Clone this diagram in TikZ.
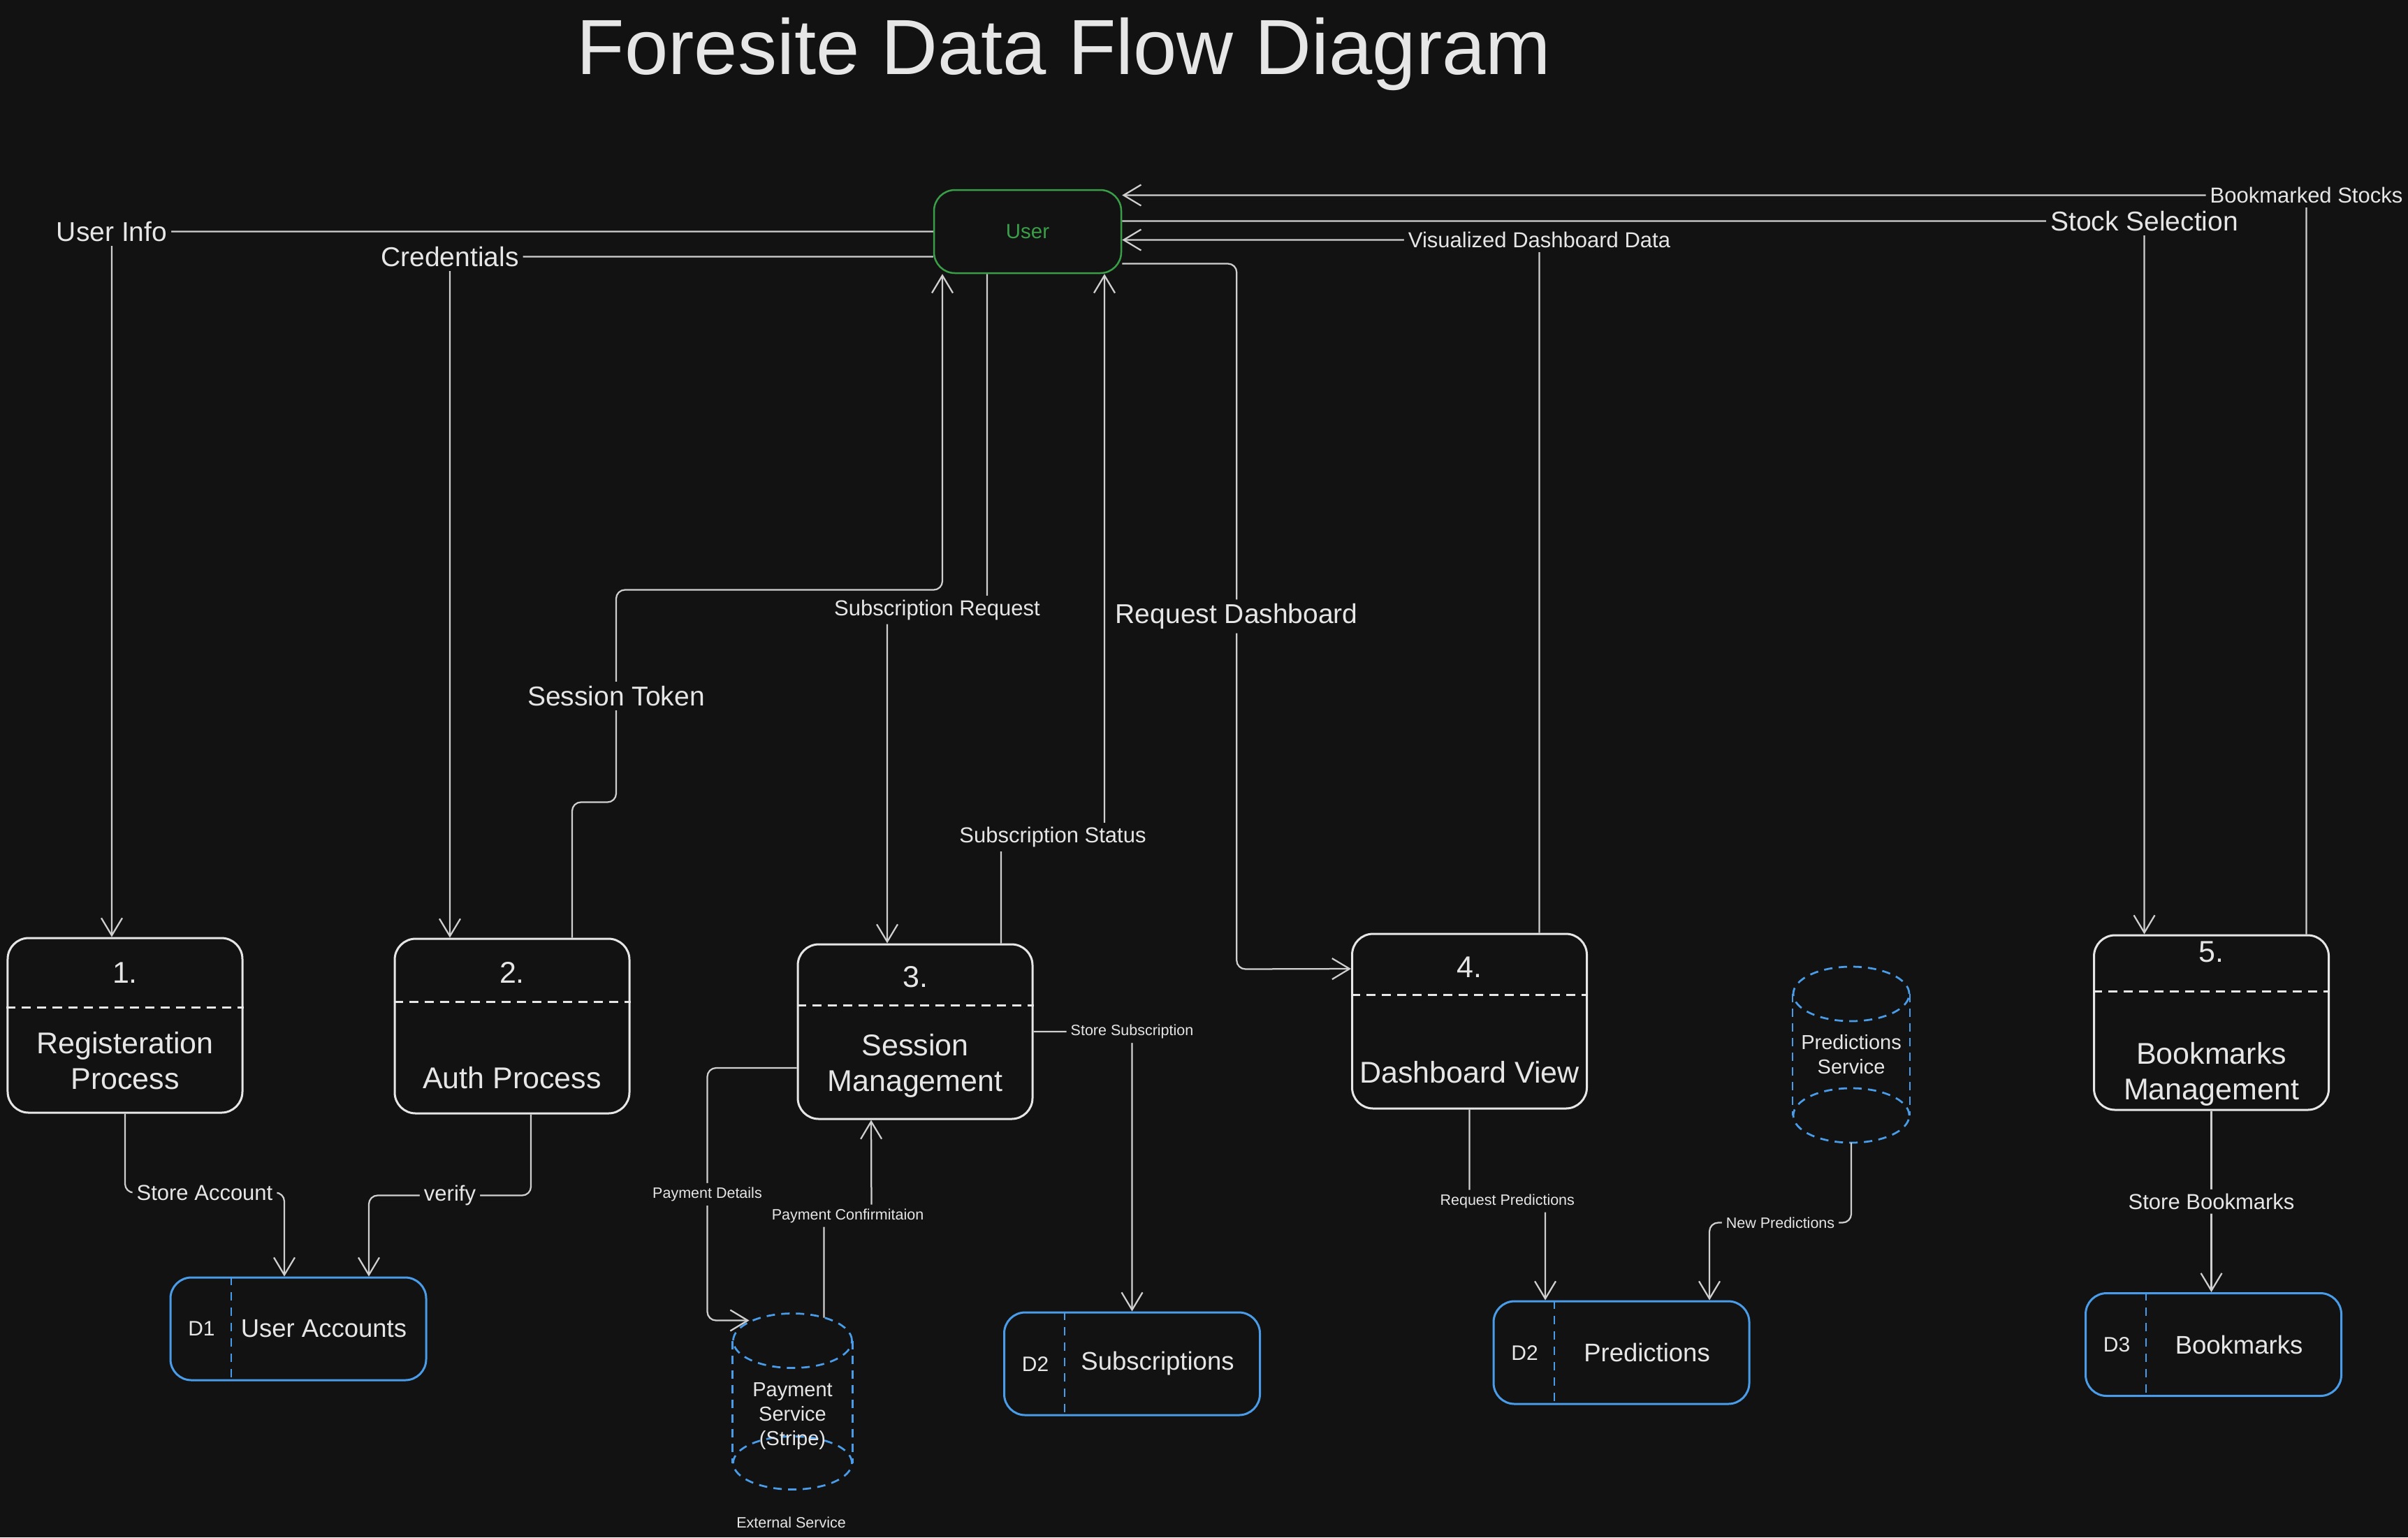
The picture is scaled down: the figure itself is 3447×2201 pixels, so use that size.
\documentclass[tikz,border=0pt]{standalone}
\usepackage{fontspec}
\setmainfont{Liberation Sans}
\usepackage{tikz}
\usetikzlibrary{arrows.meta,calc,positioning}
\definecolor{bg}{HTML}{121212}
\definecolor{fg}{HTML}{E6E6E6}
\definecolor{wire}{HTML}{CFCFCF}
\definecolor{userg}{HTML}{3A9E48}
\definecolor{storeb}{HTML}{4A9CE8}

\begin{document}
\begin{tikzpicture}[x=0.2pt,y=-0.2pt,>={Straight Barb[length=5pt,width=6pt]},
        flow/.style={draw=wire,line width=0.45pt,rounded corners=2.5pt},
        lbl/.style={fill=bg,text=fg,inner sep=1.2pt},
        lblbig/.style={lbl,font=\fontsize{7.8}{9}\selectfont},
        lblmid/.style={lbl,font=\fontsize{6.2}{7.4}\selectfont},
        lblsmall/.style={lbl,font=\fontsize{4.3}{5.2}\selectfont},
        entity/.style={rectangle,rounded corners=6pt,draw=userg,line width=0.5pt,fill=bg,minimum width=53.6pt,minimum height=23.8pt,text=userg,font=\fontsize{5.9}{7}\selectfont},
        process/.style={rectangle,rounded corners=6pt,draw=fg,line width=0.6pt,fill=bg,minimum width=67.2pt,minimum height=50pt},
        proctext/.style={text=fg,align=center,font=\fontsize{8.6}{10.2}\selectfont},
        divider/.style={draw=fg,line width=0.6pt,dash pattern=on 2.6pt off 1.8pt},
        store/.style={rectangle,rounded corners=6pt,draw=storeb,line width=0.6pt,fill=bg,minimum width=73.2pt,minimum height=29.4pt},
        storeid/.style={text=fg,font=\fontsize{6}{7}\selectfont},
        storetext/.style={text=fg,font=\fontsize{7.3}{8.8}\selectfont},
        storediv/.style={draw=storeb,line width=0.4pt,dash pattern=on 2.4pt off 2pt},
        cyl/.style={rectangle,inner sep=0pt,minimum height=50pt},
        cyldash/.style={draw=storeb,line width=0.55pt,dash pattern=on 2.4pt off 1.8pt},
        cyltext/.style={text=fg,align=center,font=\fontsize{5.8}{7}\selectfont}]
        \fill[bg] (0,0) rectangle (3447,2201);
        \useasboundingbox (0,0) rectangle (3447,2201);

        \node[text=fg,font=\fontsize{22.4}{26}\selectfont] (title) at (1523,78) {Foresite Data Flow Diagram};
        \node[entity] (User) at (1471,331.5) {User};

        \node[process] (p1) at (179,1468) {};
        \node[proctext] (n1) at ($(p1.north)+(0,51)$) {1.};
        \draw[divider] ($(p1.north west)+(0,101)$) -- ($(p1.north east)+(0,101)$);
        \node[proctext] (t1) at ($(p1.north)+(0,177)$) {Registeration\\Process};

        \node[process] (p2) at (733,1469) {};
        \node[proctext] (n2) at ($(p2.north)+(0,50)$) {2.};
        \draw[divider] ($(p2.north west)+(0,92)$) -- ($(p2.north east)+(0,92)$);
        \node[proctext] (t2) at ($(p2.north)+(0,201)$) {Auth Process};

        \node[process] (p3) at (1310,1477) {};
        \node[proctext] (n3) at ($(p3.north)+(0,48)$) {3.};
        \draw[divider] ($(p3.north west)+(0,89)$) -- ($(p3.north east)+(0,89)$);
        \node[proctext] (t3) at ($(p3.north)+(0,175)$) {Session\\Management};

        \node[process] (p4) at (2103.5,1462) {};
        \node[proctext] (n4) at ($(p4.north)+(0,49)$) {4.};
        \draw[divider] ($(p4.north west)+(0,89)$) -- ($(p4.north east)+(0,89)$);
        \node[proctext] (t4) at ($(p4.north)+(0,200)$) {Dashboard View};

        \node[process] (p5) at (3165.5,1464) {};
        \node[proctext] (n5) at ($(p5.north)+(0,25)$) {5.};
        \draw[divider] ($(p5.north west)+(0,82)$) -- ($(p5.north east)+(0,82)$);
        \node[proctext] (t5) at ($(p5.north)+(0,200)$) {Bookmarks\\Management};

        \node[store] (d1) at (427,1902.5) {};
        \node[storeid] (d1id) at ($(d1.west)+(46,0)$) {D1};
        \draw[storediv] ($(d1.north west)+(88,0)$) -- ($(d1.south west)+(88,0)$);
        \node[storetext] (d1name) at ($(d1.west)+(221,0)$) {User Accounts};

        \node[store] (d2s) at (1620.5,1952.5) {};
        \node[storeid] (d2sid) at ($(d2s.west)+(46,0)$) {D2};
        \draw[storediv] ($(d2s.north west)+(88,0)$) -- ($(d2s.south west)+(88,0)$);
        \node[storetext] (d2sname) at ($(d2s.west)+(221,0)$) {Subscriptions};

        \node[store] (d2p) at (2321,1936.5) {};
        \node[storeid] (d2pid) at ($(d2p.west)+(46,0)$) {D2};
        \draw[storediv] ($(d2p.north west)+(88,0)$) -- ($(d2p.south west)+(88,0)$);
        \node[storetext] (d2pname) at ($(d2p.west)+(221,0)$) {Predictions};

        \node[store] (d3) at (3168.5,1925) {};
        \node[storeid] (d3id) at ($(d3.west)+(46,0)$) {D3};
        \draw[storediv] ($(d3.north west)+(88,0)$) -- ($(d3.south west)+(88,0)$);
        \node[storetext] (d3name) at ($(d3.west)+(221,0)$) {Bookmarks};

        \node[cyl,minimum width=34pt] (pay) at (1134.5,2006.5) {};
        \draw[cyldash] ($(pay.north)+(0,39)$) ellipse [x radius=17pt,y radius=7.8pt];
        \draw[cyldash] ($(pay.south)+(0,-38)$) ellipse [x radius=17pt,y radius=7.6pt];
        \draw[cyldash] ($(pay.north west)+(0,39)$) -- ($(pay.south west)+(0,-38)$);
        \draw[cyldash] ($(pay.north east)+(0,39)$) -- ($(pay.south east)+(0,-38)$);
        \node[cyltext] (payText) at ($(pay.center)+(0,21)$) {Payment\\Service\\(Stripe)};
        \node[lblsmall] (extSvc) at ($(pay.south)+(-2,47)$) {External Service};

        \node[cyl,minimum width=33.2pt] (psvc) at (2650,1510) {};
        \draw[cyldash] ($(psvc.north)+(0,39)$) ellipse [x radius=16.6pt,y radius=7.8pt];
        \draw[cyldash] ($(psvc.south)+(0,-39)$) ellipse [x radius=16.6pt,y radius=7.8pt];
        \draw[cyldash] ($(psvc.north west)+(0,39)$) -- ($(psvc.south west)+(0,-39)$);
        \draw[cyldash] ($(psvc.north east)+(0,39)$) -- ($(psvc.south east)+(0,-39)$);
        \node[cyltext] (psvcText) at (psvc.center) {Predictions\\Service};

        \draw[flow,->] (User.west) -| node[lblbig] (lUI) {User Info} ($(p1.north)+(-19,0)$);
        \draw[flow,->] ($(User.west)+(0,36)$) -| node[lblbig] (lCr) {Credentials} ($(p2.north)+(-89,0)$);
        \draw[flow,->] ($(p2.north)+(86,0)$) -- ++(0,-194) -- ++(63,0) -- node[lblbig] (lST) {Session Token} ++(0,-304) -| ($(User.south)+(-122,0)$);
        \draw[flow,->] ($(User.south)+(-58,0)$) -- ++(0,481) -- node[lblmid] (lSR) {Subscription Request} ++(-143,0) -- ($(p3.north)+(-40,0)$);
        \draw[flow,->] ($(p3.north)+(123,0)$) -- ++(0,-152) -- node[lblmid] (lSS) {Subscription Status} ++(148,0) -- ($(User.south)+(110,0)$);
        \draw[flow,->] ($(User.east)+(0,46)$) -| node[lblbig,pos=0.75] (lRD) {Request Dashboard} ++(164,1010) -- ($(p4.west)+(0,-75)$);
        \draw[flow,->] ($(p4.north)+(100,0)$) |- node[lblmid] (lVD) {Visualized Dashboard Data} ($(User.east)+(0,12)$);
        \draw[flow,->] ($(User.east)+(0,-15)$) -| node[lblbig] (lSSel) {Stock Selection} ($(p5.north)+(-96,0)$);
        \draw[flow,->] ($(p5.north)+(136,0)$) |- node[lblmid] (lBS) {Bookmarked Stocks} ($(User.east)+(0,-52)$);

        \draw[flow,->] (p1.south) |- node[lblmid,pos=0.75] (lSA) {Store Account} ($(d1.north)+(-20,-120)$) -- ($(d1.north)+(-20,0)$);
        \draw[flow,->] ($(p2.south)+(27,0)$) |- node[lblmid,pos=0.75] (lV) {verify} ($(d1.north)+(101,-116)$) -- ($(d1.north)+(101,0)$);
        \draw[flow,->] ($(p3.west)+(0,52)$) -| node[lblsmall,pos=0.75] (lPD) {Payment Details} ($(pay.north)+(-122,10)$) -- ($(pay.north)+(-62,10)$);
        \draw[flow,->] ($(pay.north)+(45,6)$) -- ++(0,-146) -- node[lblsmall] (lPC) {Payment Confirmitaion} ++(68,0) -- ($(p3.south)+(-63,0)$);
        \draw[flow,->] (p3.east) -| node[lblsmall] (lSSub) {Store Subscription} (d2s.north);
        \draw[flow,->] (p4.south) |- node[lblsmall,pos=0.75] (lRP) {Request Predictions} ($(d2p.north)+(-109,-142)$) -- ($(d2p.north)+(-109,0)$);
        \draw[flow,->] (psvc.south) |- node[lblsmall,pos=0.75] (lNP) {New Predictions} ($(d2p.north)+(126,-111)$) -- ($(d2p.north)+(126,0)$);
        \draw[flow,->] (p5.south) -- node[lblmid] (lSB) {Store Bookmarks} (p5.south |- d3.north);
\end{tikzpicture}
\end{document}
